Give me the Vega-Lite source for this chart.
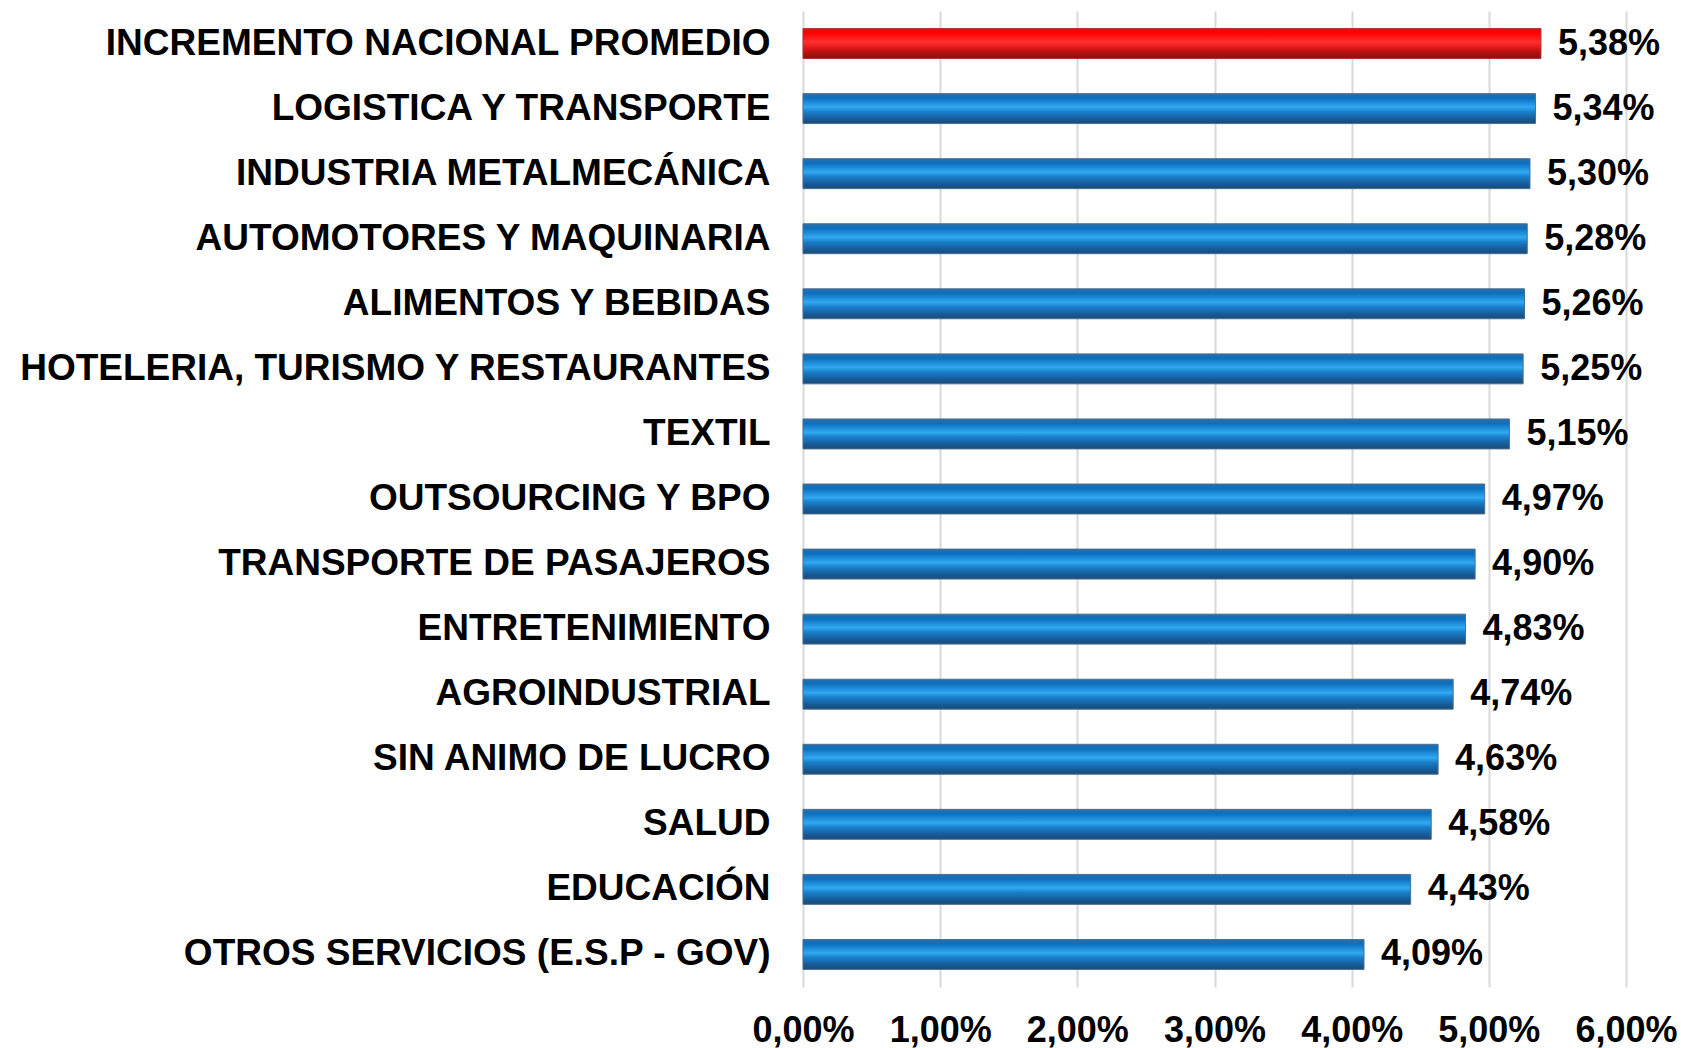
{
  "$schema": "https://vega.github.io/schema/vega-lite/v6.json",
  "width": 823,
  "height": 976,
  "autosize": {"type": "none"},
  "padding": {"left": 803, "top": 11, "right": 55, "bottom": 61},
  "background": "white",
  "config": {
    "locale": {"number": {"decimal": ",", "thousands": ".", "grouping": [3], "currency": ["$", ""]}},
    "font": "Liberation Sans",
    "view": {"stroke": null}
  },
  "data": {
    "values": [
      {"sector": "INCREMENTO NACIONAL PROMEDIO", "valor": 0.0538, "tipo": "promedio"},
      {"sector": "LOGISTICA Y TRANSPORTE", "valor": 0.0534, "tipo": "sector"},
      {"sector": "INDUSTRIA METALMECÁNICA", "valor": 0.0530, "tipo": "sector"},
      {"sector": "AUTOMOTORES Y MAQUINARIA", "valor": 0.0528, "tipo": "sector"},
      {"sector": "ALIMENTOS Y BEBIDAS", "valor": 0.0526, "tipo": "sector"},
      {"sector": "HOTELERIA, TURISMO Y RESTAURANTES", "valor": 0.0525, "tipo": "sector"},
      {"sector": "TEXTIL", "valor": 0.0515, "tipo": "sector"},
      {"sector": "OUTSOURCING Y BPO", "valor": 0.0497, "tipo": "sector"},
      {"sector": "TRANSPORTE DE PASAJEROS", "valor": 0.0490, "tipo": "sector"},
      {"sector": "ENTRETENIMIENTO", "valor": 0.0483, "tipo": "sector"},
      {"sector": "AGROINDUSTRIAL", "valor": 0.0474, "tipo": "sector"},
      {"sector": "SIN ANIMO DE LUCRO", "valor": 0.0463, "tipo": "sector"},
      {"sector": "SALUD", "valor": 0.0458, "tipo": "sector"},
      {"sector": "EDUCACIÓN", "valor": 0.0443, "tipo": "sector"},
      {"sector": "OTROS SERVICIOS (E.S.P - GOV)", "valor": 0.0409, "tipo": "sector"}
    ]
  },
  "encoding": {
    "y": {
      "field": "sector", "type": "nominal", "title": null,
      "sort": ["INCREMENTO NACIONAL PROMEDIO", "LOGISTICA Y TRANSPORTE", "INDUSTRIA METALMECÁNICA", "AUTOMOTORES Y MAQUINARIA", "ALIMENTOS Y BEBIDAS", "HOTELERIA, TURISMO Y RESTAURANTES", "TEXTIL", "OUTSOURCING Y BPO", "TRANSPORTE DE PASAJEROS", "ENTRETENIMIENTO", "AGROINDUSTRIAL", "SIN ANIMO DE LUCRO", "SALUD", "EDUCACIÓN", "OTROS SERVICIOS (E.S.P - GOV)"],
      "scale": {"paddingInner": 0.54, "paddingOuter": 0.27},
      "axis": {"ticks": false, "domain": false, "labelPadding": 33, "labelFontSize": 37, "labelFontWeight": "bold", "labelColor": "#000000", "labelFont": "Liberation Sans", "labelLimit": 1000, "grid": false}
    },
    "x": {
      "field": "valor", "type": "quantitative", "title": null,
      "scale": {"domain": [0, 0.06], "nice": false},
      "axis": {"format": ".2%", "values": [0, 0.01, 0.02, 0.03, 0.04, 0.05, 0.06], "ticks": false, "domain": false, "grid": true, "gridColor": "#d9d9d9", "gridWidth": 2, "labelPadding": 26, "labelFontSize": 36, "labelFontWeight": "bold", "labelColor": "#000000", "labelFont": "Liberation Sans", "labelFlush": false}
    }
  },
  "layer": [
    {
      "transform": [{"filter": "datum.tipo === 'sector'"}],
      "mark": {
        "type": "bar",
        "stroke": "#4a6f92",
        "strokeWidth": 1,
        "color": {
          "gradient": "linear", "x1": 0, "y1": 0, "x2": 0, "y2": 1,
          "stops": [
            {"offset": 0, "color": "#2c6ea6"},
            {"offset": 0.15, "color": "#0b6fc0"},
            {"offset": 0.45, "color": "#31a9f2"},
            {"offset": 0.6, "color": "#1a80cc"},
            {"offset": 0.85, "color": "#165a96"},
            {"offset": 1, "color": "#1c4a74"}
          ]
        }
      }
    },
    {
      "transform": [{"filter": "datum.tipo === 'promedio'"}],
      "mark": {
        "type": "bar",
        "stroke": "#b03030",
        "strokeWidth": 1,
        "color": {
          "gradient": "linear", "x1": 0, "y1": 0, "x2": 0, "y2": 1,
          "stops": [
            {"offset": 0, "color": "#e01010"},
            {"offset": 0.15, "color": "#ff0000"},
            {"offset": 0.45, "color": "#ff3030"},
            {"offset": 0.65, "color": "#e01515"},
            {"offset": 0.85, "color": "#a81010"},
            {"offset": 1, "color": "#901010"}
          ]
        }
      }
    },
    {
      "mark": {"type": "text", "align": "left", "baseline": "middle", "dx": 17, "fontSize": 36, "fontWeight": "bold", "color": "#000000", "font": "Liberation Sans"},
      "encoding": {
        "text": {"field": "valor", "type": "quantitative", "format": ".2%"}
      }
    }
  ]
}
